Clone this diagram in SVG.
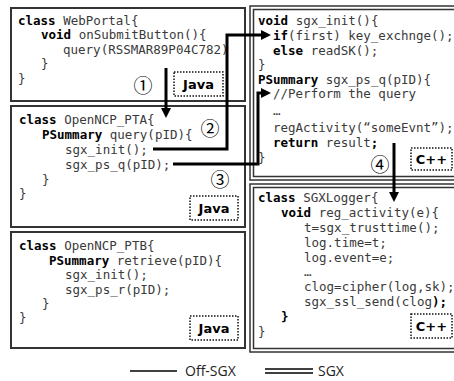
<svg xmlns="http://www.w3.org/2000/svg" width="454" height="381" viewBox="0 0 454 381">
  <style>
    .code { font-family: "DejaVu Sans Mono", "Liberation Mono", monospace; font-size: 12.5px; fill: #3a3a3a; }
    .kw { font-weight: bold; fill: #000; }
    .box { fill: #fff; stroke: #333; stroke-width: 2; }
    .dbl { fill: none; stroke: #333; stroke-width: 1.5; }
    .tag { fill: #fff; stroke: #111; stroke-width: 1.5; stroke-dasharray: 1.5 1.5; }
    .tagtxt { font-family: "DejaVu Sans", "Liberation Sans", sans-serif; font-size: 13px; font-weight: bold; fill: #000; text-anchor: middle; }
    .step { font-family: "Noto Sans CJK JP", "DejaVu Sans", sans-serif; font-size: 19px; fill: #000; text-anchor: middle; }
    .flow { fill: none; stroke: #000; stroke-width: 3; stroke-linejoin: miter; }
    .legend { font-family: "Open Sans", "Liberation Sans", sans-serif; font-size: 14px; fill: #222; }
  </style>
  <defs>
    <marker id="head" viewBox="0 0 10 10" refX="2" refY="5" markerWidth="10" markerHeight="10" markerUnits="userSpaceOnUse" orient="auto">
      <path d="M0,0 L10,5 L0,10 z" fill="#000"/>
    </marker>
  </defs>

  <!-- Java: web portal -->
  <g id="web-portal">
    <rect class="box" x="11" y="8" width="234" height="93"/>
    <text class="code" x="18" y="24.5"><tspan class="kw">class</tspan> WebPortal{</text>
    <text class="code" x="41" y="39"><tspan class="kw">void</tspan> onSubmitButton(){</text>
    <text class="code" x="63" y="53.5">query(RSSMAR89P04C782)</text>
    <text class="code" x="41" y="68">}</text>
    <text class="code" x="18" y="82.5">}</text>
    <rect class="tag" x="174" y="72" width="49" height="24"/>
    <text class="tagtxt" x="198.5" y="89">Java</text>
  </g>

  <!-- Java: patient summary A -->
  <g id="ncp-pta">
    <rect class="box" x="11" y="106" width="234" height="121"/>
    <text class="code" x="19" y="123.5"><tspan class="kw">class</tspan> OpenNCP_PTA{</text>
    <text class="code" x="42" y="138.5"><tspan class="kw">PSummary</tspan> query(pID){</text>
    <text class="code" x="65" y="153.5">sgx_init();</text>
    <text class="code" x="65" y="168.5">sgx_ps_q(pID);</text>
    <text class="code" x="42" y="183.5">}</text>
    <text class="code" x="19" y="198">}</text>
    <rect class="tag" x="190" y="196" width="48" height="24"/>
    <text class="tagtxt" x="214" y="213">Java</text>
  </g>

  <!-- Java: patient summary B -->
  <g id="ncp-ptb">
    <rect class="box" x="11" y="232" width="234" height="116"/>
    <text class="code" x="19" y="249.5"><tspan class="kw">class</tspan> OpenNCP_PTB{</text>
    <text class="code" x="49" y="264.5"><tspan class="kw">PSummary</tspan> retrieve(pID){</text>
    <text class="code" x="65" y="278.5">sgx_init();</text>
    <text class="code" x="65" y="293.5">sgx_ps_r(pID);</text>
    <text class="code" x="42" y="307.5">}</text>
    <text class="code" x="19" y="321.5">}</text>
    <rect class="tag" x="190" y="316" width="48" height="24"/>
    <text class="tagtxt" x="214" y="333">Java</text>
  </g>

  <!-- C++ enclave: init and query -->
  <g id="enclave-query">
    <rect class="dbl" x="250" y="6" width="220" height="174"/>
    <rect class="dbl" x="253.5" y="9.5" width="220" height="167"/>
    <text class="code" x="258" y="24.5"><tspan class="kw">void</tspan> sgx_init(){</text>
    <text class="code" x="273" y="39.5"><tspan class="kw">if</tspan>(first) key_exchnge();</text>
    <text class="code" x="273" y="54.5"><tspan class="kw">else</tspan> readSK();</text>
    <text class="code" x="258" y="68.5">}</text>
    <text class="code" x="258" y="83.5"><tspan class="kw">PSummary</tspan> sgx_ps_q(pID){</text>
    <text class="code" x="273" y="97.5">//Perform the query</text>
    <text class="code" x="273" y="114.5">…</text>
    <text class="code" x="273" y="131.5">regActivity(“someEvnt”);</text>
    <text class="code" x="273" y="146.5"><tspan class="kw">return</tspan> result<tspan class="kw">;</tspan></text>
    <text class="code" x="258" y="161.5">}</text>
    <rect class="tag" x="411" y="148" width="41" height="22"/>
    <text class="tagtxt" x="431.5" y="164">C++</text>
  </g>

  <!-- C++ enclave: logger -->
  <g id="enclave-logger">
    <rect class="dbl" x="250" y="184" width="220" height="168"/>
    <rect class="dbl" x="253.5" y="187.5" width="220" height="161"/>
    <text class="code" x="258" y="201.5"><tspan class="kw">class</tspan> SGXLogger{</text>
    <text class="code" x="281" y="216.5"><tspan class="kw">void</tspan> reg_activity(e){</text>
    <text class="code" x="304" y="231.5">t=sgx_trusttime();</text>
    <text class="code" x="304" y="246.5">log.time=t;</text>
    <text class="code" x="304" y="261.5">log.event=e;</text>
    <text class="code" x="304" y="275.5">…</text>
    <text class="code" x="304" y="290.5">clog=cipher(log,sk);</text>
    <text class="code" x="304" y="305.5">sgx_ssl_send(clog<tspan class="kw">);</tspan></text>
    <text class="code kw" x="281" y="320.5">}</text>
    <text class="code" x="258" y="335.5">}</text>
    <rect class="tag" x="411" y="314" width="41" height="24"/>
    <text class="tagtxt" x="431.5" y="331">C++</text>
  </g>

  <!-- call flow -->
  <g id="connectors">
    <path class="flow" d="M166,68 V110" marker-end="url(#head)"/>
    <path class="flow" d="M153,149 H227 V35 H263" marker-end="url(#head)"/>
    <path class="flow" d="M173,164 H258 V93 H263" marker-end="url(#head)"/>
    <path class="flow" d="M394,143 V194" marker-end="url(#head)"/>
  </g>

  <!-- step numbers -->
  <g id="steps">
    <text class="step" x="143" y="93">①</text>
    <text class="step" x="210" y="136">②</text>
    <text class="step" x="220" y="187">③</text>
    <text class="step" x="380" y="172">④</text>
  </g>

  <!-- legend -->
  <g id="legend">
    <line x1="130" y1="371" x2="177" y2="371" stroke="#000" stroke-width="1.5"/>
    <text class="legend" x="185" y="376">Off-SGX</text>
    <line x1="265" y1="369" x2="313" y2="369" stroke="#000" stroke-width="1.5"/>
    <line x1="265" y1="373" x2="313" y2="373" stroke="#000" stroke-width="1.5"/>
    <text class="legend" x="318" y="376">SGX</text>
  </g>
</svg>
